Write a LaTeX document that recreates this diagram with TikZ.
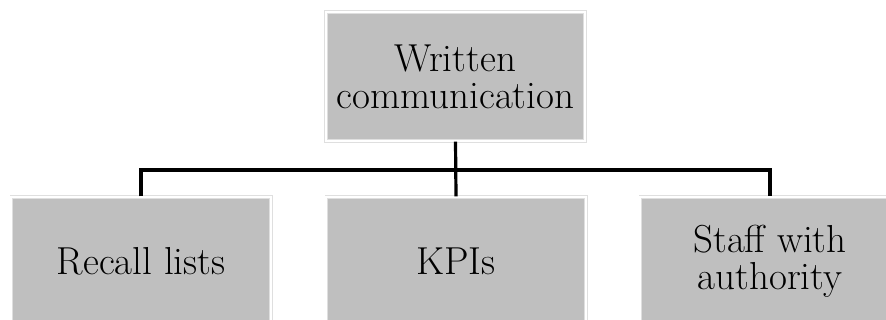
\documentclass[tikz,border=0pt]{standalone}
\usepackage{tikz}
\tikzstyle{box} = [
    rectangle,
    minimum width=129.7pt,
    minimum height=64.7pt,
    inner sep=0pt,
    fill=lightgray,
    draw=gray!25,
    line width=0.4pt,
    double=white,
    double distance=1pt,
    align=center,
    font=\fontsize{19.5}{18.5}\selectfont
]
\tikzstyle{link} = [line width=1.6pt, draw=black]

\begin{document}
\begin{tikzpicture}[x=0.5pt, y=-0.5pt]
\useasboundingbox (0,0) rectangle (886,320);

\node (written) [box] at (455.5,76.5) {Written\\communication};

\node (recall) [box] at (141,261.5) {Recall lists};
\node (kpis) [box] at (456,261.5) {KPIs};
\node (staff) [box] at (770,261.5) {Staff with\\authority};

\coordinate (bus) at (456,170);

\draw [link] (written.south) -- (kpis.north);
\draw [link] (recall.north) -- (recall.north |- bus) -- (staff.north |- bus) -- (staff.north);

\end{tikzpicture}
\end{document}
